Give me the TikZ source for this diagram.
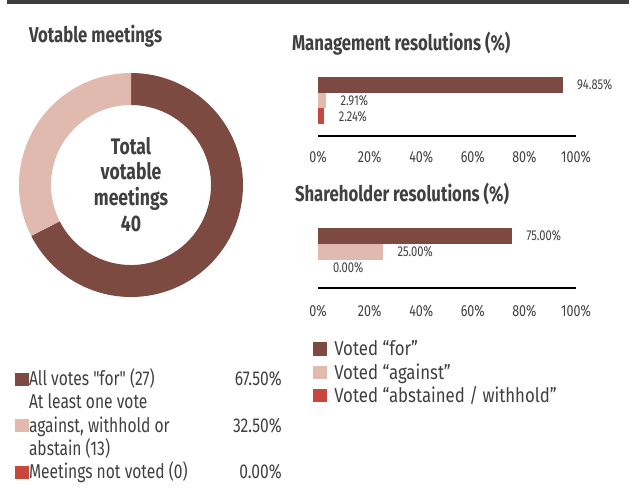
\documentclass[tikz,border=0pt]{standalone}
\usepackage{fontspec}
\setmainfont{Fira Sans}[FakeStretch=0.78]
\newfontfamily\nomap{Fira Sans}[FakeStretch=0.78]
\newfontfamily\rlegfont{Fira Sans}[FakeStretch=0.84]
\newcommand{\sq}{{\nomap"}}
\usetikzlibrary{calc}
\definecolor{cfor}{HTML}{7D4A41}
\definecolor{cagainst}{HTML}{E0B9AF}
\definecolor{cabst}{HTML}{C9463D}
\definecolor{ctext}{HTML}{404040}
\definecolor{cband}{HTML}{3D3D3D}
\begin{document}
\begin{tikzpicture}[x=0.75pt,y=-0.75pt,
  every node/.style={inner sep=0pt,outer sep=0pt,text=ctext},
  title/.style={font=\bfseries\fontsize{16.1}{18}\selectfont,anchor=base west},
  ctr/.style={font=\bfseries\fontsize{16.9}{20}\selectfont,anchor=base},
  leg/.style={font=\fontsize{15}{17}\selectfont,anchor=base west},
  legpct/.style={font=\fontsize{15}{17}\selectfont,anchor=base east},
  rleg/.style={font=\rlegfont\fontsize{15}{17}\selectfont,anchor=base west},
  tick/.style={font=\fontsize{12}{14}\selectfont,anchor=base},
  val/.style={font=\fontsize{10.7}{12}\selectfont,anchor=west},
  axisline/.style={line width=1.1pt,black}]
\useasboundingbox (0,0) rectangle (631,497);
\fill[cband] (7,0) rectangle (629,4);
% ---------- donut ----------
\coordinate (c) at (131,185);
\fill[cfor] ($(c)+(90:84pt)$) arc[start angle=90,end angle=-153,radius=84pt]
  -- ($(c)+(-153:60pt)$) arc[start angle=-153,end angle=90,radius=60pt] -- cycle;
\fill[cagainst] ($(c)+(207:84pt)$) arc[start angle=207,end angle=90,radius=84pt]
  -- ($(c)+(90:60pt)$) arc[start angle=90,end angle=207,radius=60pt] -- cycle;
\node[title] (t1) at (29,42.3) {Votable meetings};
\node[ctr] (ct1) at (131,154) {Total};
\node[ctr] (ct2) at (131,179.8) {votable};
\node[ctr] (ct3) at (131,205.6) {meetings};
\node[ctr] (ct4) at (131,231.4) {40};
% ---------- left legend ----------
\fill[cfor] (15,372.5) rectangle (28.5,385.5);
\node[leg] (l1) at (29,385.5) {All votes \sq for\sq{} (27)};
\node[legpct] (p1) at (281.7,385.5) {67.50\%};
\node[leg] (l2a) at (29,408.8) {At least one vote};
\fill[cagainst] (15,419.1) rectangle (28.5,432.1);
\node[leg] (l2b) at (29,432.1) {against, withhold or};
\node[leg] (l2c) at (29,455.4) {abstain (13)};
\node[legpct] (p2) at (281.7,432.1) {32.50\%};
\fill[cabst] (15,465.7) rectangle (28.5,478.7);
\node[leg] (l3) at (29,478.7) {Meetings not voted (0)};
\node[legpct] (p3) at (281.7,478.7) {0.00\%};
% ---------- management ----------
\node[title] (t2) at (292,50.7) {Management resolutions (\%)};
\fill[cfor] (318,77.3) rectangle (562.7,92.7);
\fill[cagainst] (318,92.7) rectangle (325.5,108.3);
\fill[cabst] (318,108.3) rectangle (323.8,124);
\node[val] (m1) at (577.2,85) {94.85\%};
\node[val] (m2) at (340.5,100.5) {2.91\%};
\node[val] (m3) at (338.8,116.2) {2.24\%};
\draw[axisline] (318,136) -- (576,136);
\foreach \v [count=\i from 0] in {0,20,40,60,80,100}
  \node[tick] (mt\i) at (318+2.58*\v,162.7) {\v\%};
% ---------- shareholder ----------
\node[title] (t3) at (295,201) {Shareholder resolutions (\%)};
\fill[cfor] (318,228) rectangle (511.5,244);
\fill[cagainst] (318,244) rectangle (382.5,260);
\node[val] (s1) at (526.5,236) {75.00\%};
\node[val] (s2) at (397.5,252) {25.00\%};
\node[val] (s3) at (333,268) {0.00\%};
\draw[axisline] (318,288) -- (576,288);
\foreach \v [count=\i from 0] in {0,20,40,60,80,100}
  \node[tick] (st\i) at (318+2.58*\v,316.7) {\v\%};
% ---------- right legend ----------
\fill[cfor] (313.3,342.3) rectangle (327.3,355.7);
\node[rleg] (r1) at (334.3,355.7) {Voted “for”};
\fill[cagainst] (313.3,365.7) rectangle (327.3,379);
\node[rleg] (r2) at (334.3,379) {Voted “against”};
\fill[cabst] (313.3,389) rectangle (327.3,402.3);
\node[rleg] (r3) at (334.3,402.3) {Voted “abstained / withhold”};
\end{tikzpicture}
\end{document}
